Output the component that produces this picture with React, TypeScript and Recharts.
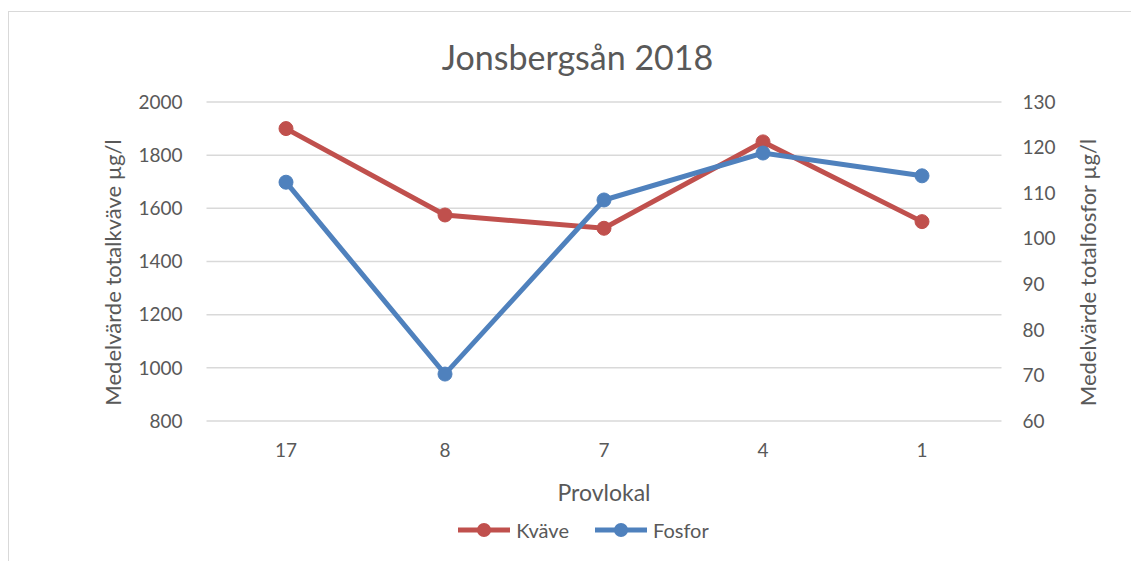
import * as React from "react";
import { Label, Line, LineChart, CartesianGrid, XAxis, YAxis } from "recharts";

const provlokaler = ["17", "8", "7", "4", "1"];
const kvave = [1900, 1575, 1525, 1850, 1550];
const fosfor = [112.4, 70.3, 108.5, 118.8, 113.8];
const kvaveTicks = [800, 1000, 1200, 1400, 1600, 1800, 2000];
const fosforTicks = [60, 70, 80, 90, 100, 110, 120, 130];

const RED = "#C0504D";
const BLUE = "#4F81BD";
const TEXT = "#595959";
const FONT = "Lato, 'Open Sans', sans-serif";

const data = provlokaler.map((p, i) => ({
  provlokal: p,
  kvave: kvave[i],
  fosfor: fosfor[i],
}));

const series = [
  { key: "kvave", name: "Kväve", color: RED },
  { key: "fosfor", name: "Fosfor", color: BLUE },
];

// rotated y-axis title, placed a bit below the plot's middle like the original
function axisTitle(text: string, dx: number) {
  return ({ viewBox }: any) => {
    const cx = viewBox.x + dx;
    const cy = viewBox.y + viewBox.height / 2 + 11;
    return (
      <text
        x={cx}
        y={cy}
        transform={`rotate(-90 ${cx} ${cy})`}
        textAnchor="middle"
        dominantBaseline="central"
        fill={TEXT}
        fontSize={22}
        fontFamily={FONT}
      >
        {text}
      </text>
    );
  };
}

export default function App() {
  const tick = { fill: TEXT, fontSize: 19, fontFamily: FONT };
  return (
    <div
      style={{
        position: "relative",
        marginTop: 3,
        width: 1140,
        height: 560,
        border: "1px solid #d9d9d9",
        background: "#fff",
        fontFamily: FONT,
      }}
    >
      <div
        style={{
          position: "absolute",
          left: 0,
          width: 1131,
          top: 25,
          paddingLeft: 6,
          boxSizing: "border-box",
          textAlign: "center",
          fontSize: 34,
          color: TEXT,
          lineHeight: "40px",
        }}
      >
        Jonsbergsån 2018
      </div>
      <LineChart
        width={1131}
        height={550}
        data={data}
        margin={{ top: 90, right: 28.5, bottom: 51, left: 77.5 }}
      >
        <CartesianGrid vertical={false} stroke="#d9d9d9" strokeWidth={1.5} yAxisId="left" />
        <XAxis
          dataKey="provlokal"
          axisLine={false}
          tickLine={false}
          tickSize={0}
          tickMargin={23}
          tick={tick}
          height={90}
          padding={{ left: 79.5, right: 79.5 }}
        >
          <Label
            value="Provlokal"
            position="insideBottom"
            offset={10}
            fill={TEXT}
            fontSize={23}
            fontFamily={FONT}
          />
        </XAxis>
        <YAxis
          yAxisId="left"
          domain={[800, 2000]}
          ticks={kvaveTicks}
          axisLine={false}
          tickLine={false}
          tickSize={0}
          tickMargin={24}
          tick={tick}
          width={120}
        >
          <Label content={axisTitle("Medelvärde totalkväve µg/l", 26)} />
        </YAxis>
        <YAxis
          yAxisId="right"
          orientation="right"
          domain={[60, 130]}
          ticks={fosforTicks}
          axisLine={false}
          tickLine={false}
          tickSize={0}
          tickMargin={21}
          tick={tick}
          width={110}
        >
          <Label content={axisTitle("Medelvärde totalfosfor µg/l", 86)} />
        </YAxis>
        <Line
          yAxisId="left"
          dataKey="kvave"
          name="Kväve"
          stroke={RED}
          strokeWidth={5}
          dot={{ r: 7, fill: RED, stroke: RED, strokeWidth: 1 }}
          isAnimationActive={false}
        />
        <Line
          yAxisId="right"
          dataKey="fosfor"
          name="Fosfor"
          stroke={BLUE}
          strokeWidth={5}
          dot={{ r: 7, fill: BLUE, stroke: BLUE, strokeWidth: 1 }}
          isAnimationActive={false}
        />
      </LineChart>
      <div
        style={{
          position: "absolute",
          left: 0,
          width: 1131,
          top: 504,
          paddingLeft: 18,
          boxSizing: "border-box",
          display: "flex",
          justifyContent: "center",
          gap: 26,
          fontSize: 20,
          color: TEXT,
          lineHeight: "28px",
        }}
      >
        {series.map((s) => (
          <div key={s.key} style={{ display: "flex", alignItems: "center", gap: 6 }}>
            <svg width={52} height={16}>
              <line x1={0} y1={8} x2={52} y2={8} stroke={s.color} strokeWidth={5} />
              <circle cx={26} cy={8} r={7} fill={s.color} />
            </svg>
            <span>{s.name}</span>
          </div>
        ))}
      </div>
    </div>
  );
}
